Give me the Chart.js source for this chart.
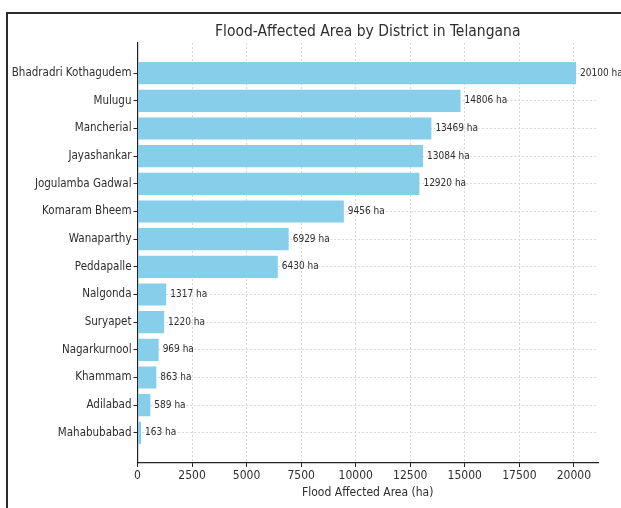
<!DOCTYPE html>
<html>
<head>
<meta charset="utf-8">
<script src="https://cdn.jsdelivr.net/npm/chart.js@4/dist/chart.umd.min.js"></script>
<style>
    html, body { margin: 0; padding: 0; background: #fff; }
    #wrap { position: relative; width: 621px; height: 508px; overflow: hidden; }
    #frame { position: absolute; left: 6px; top: 12px; right: -4px; bottom: -4px;
             border-left: 2px solid #2b2b2b; border-top: 2px solid #2b2b2b; }
    #chart { position: absolute; left: 0; top: 0; }
</style>
</head>
<body>
<div id="wrap">
    <div id="frame"></div>
    <canvas id="chart" width="621" height="508"></canvas>
</div>
<script>
const districts = ['Bhadradri Kothagudem', 'Mulugu', 'Mancherial', 'Jayashankar', 'Jogulamba Gadwal',
    'Komaram Bheem', 'Wanaparthy', 'Peddapalle', 'Nalgonda', 'Suryapet', 'Nagarkurnool',
    'Khammam', 'Adilabad', 'Mahabubabad'];
const areas = [20100, 14806, 13469, 13084, 12920, 9456, 6929, 6430, 1317, 1220, 969, 863, 589, 163];
const xTicks = [0, 2500, 5000, 7500, 10000, 12500, 15000, 17500, 20000];

const FONT = "'DejaVu Sans Condensed', 'Liberation Sans Narrow', 'DejaVu Sans', sans-serif";
const TEXT = '#2e2e2e';

// title centred over the plot area, and "ha" labels at the bar ends
const labelsPlugin = {
    id: 'labels',
    afterDatasetsDraw(chart) {
        const ctx = chart.ctx;
        const area = chart.chartArea;
        ctx.save();
        ctx.fillStyle = TEXT;
        ctx.font = '10px ' + FONT;
        ctx.textBaseline = 'middle';
        ctx.textAlign = 'left';
        chart.getDatasetMeta(0).data.forEach((bar, i) => {
            ctx.fillText(areas[i] + ' ha', bar.x + 4, bar.y);
        });
        ctx.font = '15.5px ' + FONT;
        ctx.textAlign = 'center';
        ctx.textBaseline = 'alphabetic';
        ctx.fillText('Flood-Affected Area by District in Telangana', (area.left + area.right) / 2, 36);
        ctx.restore();
    }
};

new Chart(document.getElementById('chart'), {
    type: 'bar',
    data: {
        datasets: [{
            data: areas.map((v, i) => ({ x: v, y: i })),
            backgroundColor: '#87ceeb',
            borderWidth: 0,
            categoryPercentage: 1,
            barPercentage: 0.8
        }]
    },
    options: {
        indexAxis: 'y',
        responsive: false,
        animation: false,
        layout: { padding: { top: 43, right: 23, bottom: 0, left: 0 } },
        plugins: {
            legend: { display: false },
            tooltip: { enabled: false }
        },
        scales: {
            x: {
                type: 'linear',
                min: 0,
                max: 21105,
                afterBuildTicks: axis => { axis.ticks = xTicks.map(v => ({ value: v })); },
                afterFit: axis => { axis.height = 45; },
                ticks: {
                    color: TEXT,
                    font: { family: FONT, size: 12 },
                    padding: 2,
                    callback: v => String(v)
                },
                grid: { color: '#d8d8d8', tickColor: '#222', tickLength: 4, tickWidth: 1 },
                border: { color: '#222', width: 1.2, dash: [2, 2] },
                title: {
                    display: true,
                    text: 'Flood Affected Area (ha)',
                    color: TEXT,
                    font: { family: FONT, size: 12 },
                    padding: { top: 0, bottom: 8 }
                }
            },
            y: {
                type: 'linear',
                reverse: true,
                offset: false,
                min: -1.09,
                max: 14.09,
                afterBuildTicks: axis => { axis.ticks = districts.map((d, i) => ({ value: i })); },
                afterFit: axis => { axis.width = 137.5; },
                ticks: {
                    color: TEXT,
                    font: { family: FONT, size: 11.5 },
                    padding: 2,
                    callback: v => districts[v]
                },
                grid: { offset: false, color: '#d8d8d8', tickColor: '#222', tickLength: 4, tickWidth: 1 },
                border: { color: '#222', width: 1.2, dash: [2, 2] }
            }
        }
    },
    plugins: [labelsPlugin]
});
</script>
</body>
</html>
